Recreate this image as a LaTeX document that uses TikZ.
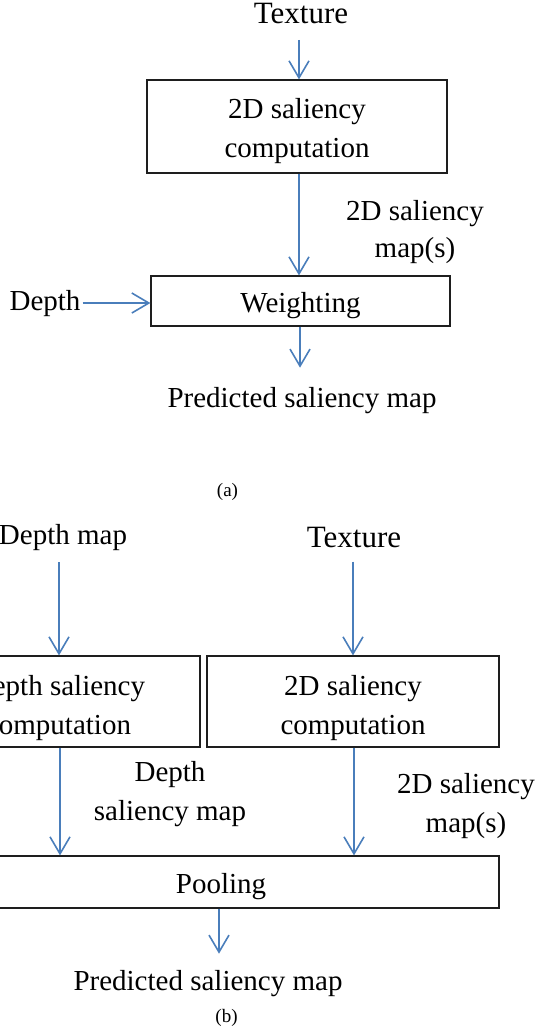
\documentclass[tikz,border=0pt]{standalone}
\usepackage{fontspec}
\setmainfont{Liberation Serif}
\usetikzlibrary{arrows.meta,calc}
\definecolor{arrblue}{RGB}{74,126,187}
\definecolor{boxline}{RGB}{30,30,30}
\begin{document}
\begin{tikzpicture}[x=1pt,y=-1pt,
  box/.style={draw=boxline,line width=1.2pt,inner sep=0pt,align=center,font=\fontsize{29}{39}\selectfont},
  txt/.style={inner sep=0pt,font=\fontsize{29}{35}\selectfont},
  lbl/.style={inner sep=0pt,align=center},
  arr/.style={draw=arrblue,line width=1.6pt,-{Straight Barb[length=17pt,width=20pt]}}]
\useasboundingbox (0,0) rectangle (539,1032);
\clip (0,0) rectangle (539,1032);
% (a)
\node[txt,font=\fontsize{31}{37}\selectfont,anchor=base] (texA) at (301,23.3) {Texture};
\node[box,minimum width=300pt,minimum height=93pt] (compA) at (297,126.5) {\rule{0pt}{29pt}2D saliency\\computation};
\node[box,minimum width=299pt,minimum height=50pt] (weight) at (300.5,301) {\rule{0pt}{28.3pt}Weighting};
\node[txt,anchor=base] (depthA) at (45,310) {Depth};
\node[txt,anchor=base] (predA) at (302,407) {Predicted saliency map};
\node[lbl,font=\fontsize{29}{37}\selectfont] (mapA) at (415,231.75) {2D saliency\\map(s)};
\node[txt,font=\fontsize{19}{23}\selectfont,anchor=base] (capA) at (227.5,496) {(a)};
\draw[arr] ($(texA.south)+(-2,16)$) -- ($(texA.south |- compA.north)+(-2,0)$);
\draw[arr] ($(compA.south)+(2,0)$) -- ($(compA.south |- weight.north)+(2,0)$);
\draw[arr] ($(depthA.east)+(2,0)$) -- (depthA.east -| weight.west);
\draw[arr] ($(weight.south)+(-0.5,0)$) -- ($(weight.south |- predA.north)+(-0.5,-19)$);
% (b)
\node[txt,anchor=base] (dmap) at (63,544) {Depth map};
\node[txt,font=\fontsize{31}{37}\selectfont,anchor=base] (texB) at (354,547) {Texture};
\node[box,minimum width=283pt,minimum height=91pt] (dcomp) at (58.5,701.5) {\rule{0pt}{33.3pt}Depth saliency\\computation};
\node[box,minimum width=292pt,minimum height=91pt] (compB) at (353,701.5) {\rule{0pt}{33.3pt}2D saliency\\computation};
\node[box,minimum width=556pt,minimum height=52pt] (pool) at (221,882) {\rule{0pt}{28.3pt}Pooling};
\node[lbl,font=\fontsize{29}{39}\selectfont] (dlab) at (170,793.75) {Depth\\saliency map};
\node[lbl,font=\fontsize{29}{39}\selectfont] (mapB) at (466,805.75) {2D saliency\\map(s)};
\node[txt,anchor=base] (predB) at (208,990) {Predicted saliency map};
\node[txt,font=\fontsize{19}{23}\selectfont,anchor=base] (capB) at (226.5,1022) {(b)};
\draw[arr] ($(dmap.south)+(-4,12)$) -- ($(dmap.south |- dcomp.north)+(-4,0)$);
\draw[arr] ($(texB.south)+(-1,14)$) -- ($(texB.south |- compB.north)+(-1,0)$);
\draw[arr] ($(dcomp.south)+(1.5,0)$) -- ($(dcomp.south |- pool.north)+(1.5,0)$);
\draw[arr] ($(compB.south)+(1,0)$) -- ($(compB.south |- pool.north)+(1,0)$);
\draw[arr] ($(pool.south)+(-2,0)$) -- ($(pool.south |- predB.north)+(-2,-16)$);
\end{tikzpicture}
\end{document}
